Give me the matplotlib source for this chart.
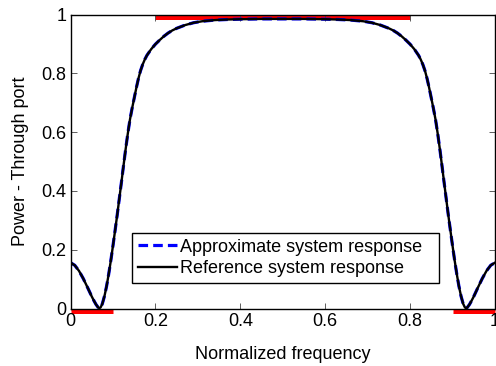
import matplotlib
matplotlib.use("Agg")
import matplotlib.pyplot as plt

# ---- data ----
freq = [0.000, 0.010, 0.020, 0.030, 0.040, 0.050, 0.055, 0.060, 0.065, 0.068, 0.071, 0.075,
        0.080, 0.085, 0.090, 0.095, 0.100, 0.105, 0.110, 0.115, 0.120, 0.125, 0.130, 0.135,
        0.140, 0.145, 0.150, 0.155, 0.160, 0.165, 0.170, 0.175, 0.180, 0.190, 0.200, 0.210,
        0.220, 0.230, 0.240, 0.250, 0.270, 0.290, 0.310, 0.340, 0.370, 0.400, 0.450, 0.500,
        0.550, 0.600, 0.630, 0.660, 0.690, 0.710, 0.730, 0.750, 0.760, 0.770, 0.780, 0.790,
        0.800, 0.810, 0.820, 0.825, 0.830, 0.835, 0.840, 0.845, 0.850, 0.855, 0.860, 0.865,
        0.870, 0.875, 0.880, 0.885, 0.890, 0.895, 0.900, 0.905, 0.910, 0.915, 0.920, 0.925,
        0.929, 0.932, 0.935, 0.940, 0.945, 0.950, 0.960, 0.970, 0.980, 0.990, 1.000]
ref_power = [0.156, 0.147, 0.128, 0.102, 0.072, 0.041, 0.027, 0.014, 0.004, 0.001, 0.004, 0.016,
             0.042, 0.076, 0.117, 0.163, 0.213, 0.265, 0.318, 0.374, 0.430, 0.487, 0.543, 0.595,
             0.642, 0.680, 0.715, 0.750, 0.782, 0.809, 0.830, 0.847, 0.861, 0.882, 0.899, 0.913,
             0.926, 0.937, 0.946, 0.953, 0.964, 0.972, 0.977, 0.981, 0.983, 0.984, 0.985, 0.985,
             0.985, 0.984, 0.983, 0.981, 0.977, 0.972, 0.964, 0.953, 0.946, 0.937, 0.926, 0.913,
             0.899, 0.882, 0.861, 0.847, 0.830, 0.809, 0.782, 0.750, 0.715, 0.680, 0.642, 0.595,
             0.543, 0.487, 0.430, 0.374, 0.318, 0.265, 0.213, 0.163, 0.117, 0.076, 0.042, 0.016,
             0.004, 0.001, 0.004, 0.014, 0.027, 0.041, 0.072, 0.102, 0.128, 0.147, 0.156]
approx_power = ref_power

# specification masks (red bars)
pass_x = [0.2, 0.8]
pass_y = [0.99, 0.99]
stop1_x = [0.0, 0.1]
stop2_x = [0.9, 1.0]
stop_y = [-0.01, -0.01]

ticks = [0, 0.2, 0.4, 0.6, 0.8, 1]
tick_labels = ["0", "0.2", "0.4", "0.6", "0.8", "1"]

plt.rcParams['font.family'] = ['Liberation Sans', 'DejaVu Sans']
plt.rcParams['font.size'] = 13

fig = plt.figure(figsize=(4.96, 3.66), dpi=100)
ax = fig.add_axes([70.5 / 496, 1 - 308.5 / 366, 424.5 / 496, 294 / 366])

red = '#ff0000'
ax.plot(pass_x, pass_y, color=red, lw=3.6, solid_capstyle='butt', clip_on=False, zorder=1)
ax.plot(stop1_x, stop_y, color=red, lw=3.6, solid_capstyle='butt', clip_on=False, zorder=1)
ax.plot(stop2_x, stop_y, color=red, lw=3.6, solid_capstyle='butt', clip_on=False, zorder=1)

l1, = ax.plot(freq, approx_power, color='#0000ff', lw=2.3, ls='--', zorder=3,
              label='Approximate system response')
l1.set_dashes([3.0, 1.6])
l2, = ax.plot(freq, ref_power, color='black', lw=1.7, zorder=4,
              label='Reference system response')

ax.set_xlim(0, 1)
ax.set_ylim(0, 1)
ax.set_xticks(ticks)
ax.set_xticklabels(tick_labels)
ax.set_yticks(ticks)
ax.set_yticklabels(tick_labels)
ax.tick_params(direction='in', length=4, width=0.6, top=True, right=True, pad=3,
               labelsize=13, color='#444444')
for s in ax.spines.values():
    s.set_linewidth(1.0)
    s.set_zorder(5)

ax.set_xlabel('Normalized frequency', fontsize=13, labelpad=12)
ax.set_ylabel('Power - Through port', fontsize=13, labelpad=9)

leg = ax.legend(loc='lower left', bbox_to_anchor=(0.1456, 0.0867, 0.7225, 0.2),
                mode='expand', borderaxespad=0,
                fancybox=False, framealpha=1, edgecolor='black', handlelength=2.16,
                handletextpad=0.15, labelspacing=0.25, borderpad=0.33, fontsize=13)
leg.get_frame().set_linewidth(1.0)

fig.savefig('out.png', dpi=100)
